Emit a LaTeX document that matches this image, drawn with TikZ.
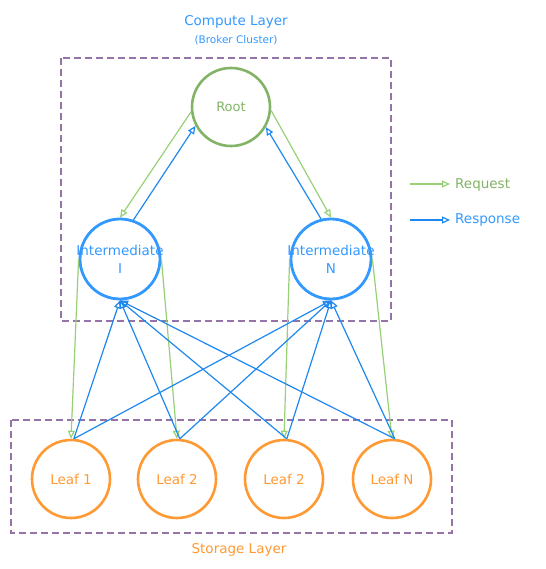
\documentclass[tikz,border=0pt]{standalone}
\usepackage{fontspec}
\setmainfont{DejaVu Sans}
\usetikzlibrary{arrows.meta}
\definecolor{purp}{HTML}{9673A6}
\definecolor{rootg}{HTML}{82B366}
\definecolor{lgreen}{HTML}{97D077}
\definecolor{tblue}{HTML}{3399FF}
\definecolor{ablue}{HTML}{1E88F0}
\definecolor{orng}{HTML}{FF9933}
\newcommand{\zw}[1]{\makebox[0pt][c]{#1}}
\tikzset{
  layerbox/.style={draw=purp, line width=2pt, dash pattern=on 7pt off 4pt},
  rootnode/.style={circle, draw=rootg, line width=2.6pt, minimum size=78pt, inner sep=0pt, text=rootg, font=\fontsize{13}{15}\selectfont},
  midnode/.style={circle, draw=tblue, line width=2.8pt, minimum size=80pt, inner sep=0pt, text=tblue, align=center, font=\fontsize{13.5}{18}\selectfont},
  leafnode/.style={circle, draw=orng, line width=2.6pt, minimum size=78pt, inner sep=0pt, text=orng, font=\fontsize{13.5}{15}\selectfont},
  req/.style={draw=lgreen, line width=1.2pt, -{Triangle[open,length=8pt,width=7pt]}},
  resp/.style={draw=ablue, line width=1.2pt, -{Triangle[open,length=8pt,width=7pt]}},
  lbl/.style={inner sep=0pt, font=\fontsize{13.5}{15}\selectfont},
}
\begin{document}
\begin{tikzpicture}[x=1pt, y=-1pt]
\useasboundingbox (0,0) rectangle (545,569);
% layer boxes
\draw[layerbox] (61,58) rectangle (391,321);
\draw[layerbox] (11,420) rectangle (452,533);
\node[lbl, text=tblue] (clayer) at (236,22) {Compute Layer};
\node[lbl, text=tblue, font=\fontsize{10.5}{12}\selectfont] (bcluster) at (236,40) {(Broker Cluster)};
\node[lbl, text=orng] (slayer) at (239,550) {Storage Layer};
% nodes
\node[rootnode] (root) at (231,107) {Root};
\node[midnode] (i1) at (120,259) {\zw{Intermediate}\\\zw{I}};
\node[midnode] (iN) at (331,259) {\zw{Intermediate}\\\zw{N}};
\node[leafnode] (l1) at (71,479) {Leaf 1};
\node[leafnode] (l2) at (177,479) {Leaf 2};
\node[leafnode] (l3) at (284,479) {Leaf 2};
\node[leafnode] (lN) at (392,479) {Leaf N};
% root <-> intermediates
\draw[req] (root.187) -- (i1.north);
\draw[resp] (i1.71) -- (root.208);
\draw[req] (root.-5) -- (iN.north);
\draw[resp] (iN.104) -- (root.-30);
% intermediates -> leaves (request)
\draw[req] (i1.west) -- (l1.north);
\draw[req] (i1.east) -- (l2.north);
\draw[req] (iN.west) -- (l3.north);
\draw[req] (iN.east) -- (lN.north);
% leaves -> intermediates (response)
\foreach \l in {l1,l2,l3,lN}{
  \draw[resp] (\l.86) -- (i1.south);
  \draw[resp] (\l.86) -- (iN.south);
}
% legend
\coordinate (rqs) at (410,184);
\coordinate (rqe) at (450,184);
\coordinate (rss) at (410,220);
\coordinate (rse) at (450,220);
\draw[req] (rqs) -- (rqe);
\draw[resp] (rss) -- (rse);
\node[lbl, text=rootg, anchor=west] (rqt) at (455,185) {Request};
\node[lbl, text=tblue, anchor=west] (rst) at (455,220) {Response};
\end{tikzpicture}
\end{document}
